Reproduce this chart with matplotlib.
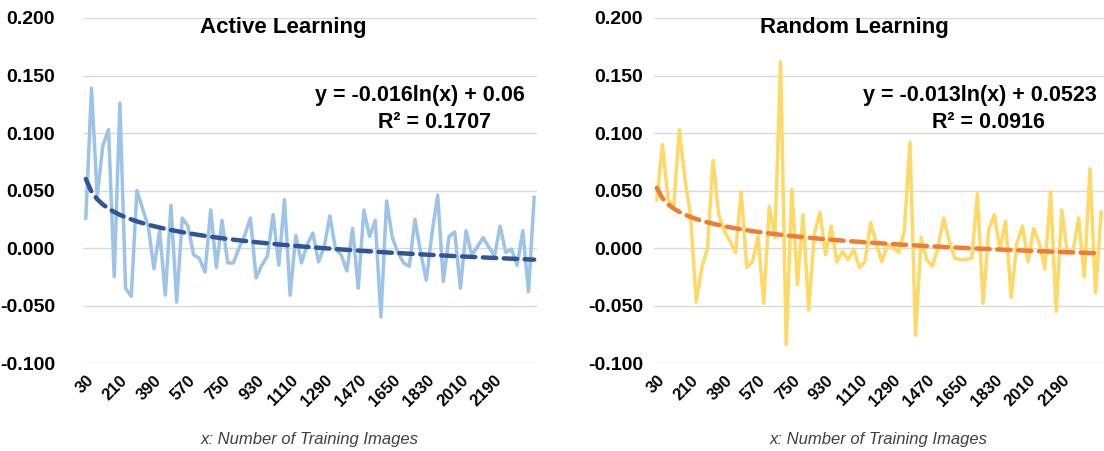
import matplotlib
matplotlib.use('Agg')
import numpy as np
import matplotlib.pyplot as plt

# number of training images (categories), 30 per step
images = list(range(30, 2401, 30))
tick_labels = [str(v) for v in range(30, 2191, 180)]

# active learning series
active = [0.026, 0.139, 0.045, 0.089, 0.103, -0.025, 0.126, -0.035, -0.042, 0.050,
          0.034, 0.019, -0.018, 0.015, -0.041, 0.037, -0.047, 0.026, 0.019, -0.006,
          -0.009, -0.021, 0.033, -0.017, 0.024, -0.013, -0.013, 0.000, 0.011, 0.026,
          -0.026, -0.015, -0.007, 0.029, -0.015, 0.042, -0.041, 0.011, -0.013, 0.003,
          0.013, -0.012, 0.001, 0.028, -0.001, -0.006, -0.020, 0.017, -0.035, 0.033,
          0.010, 0.024, -0.060, 0.041, 0.009, -0.004, -0.013, -0.016, 0.025, -0.004,
          -0.028, 0.013, 0.046, -0.029, 0.010, 0.014, -0.035, 0.015, -0.006, 0.001,
          0.009, 0.001, -0.007, 0.019, -0.004, -0.001, -0.015, 0.015, -0.038, 0.044]

# random learning series
random_l = [0.042, 0.090, 0.042, 0.036, 0.103, 0.060, 0.028, -0.047, -0.017, 0.000,
            0.076, 0.029, 0.015, 0.006, -0.004, 0.049, -0.017, -0.012, 0.010, -0.048,
            0.036, 0.009, 0.162, -0.084, 0.051, -0.032, 0.029, -0.054, 0.012, 0.031,
            -0.006, 0.019, -0.012, -0.003, -0.010, -0.001, -0.017, -0.012, 0.022, 0.004,
            -0.012, 0.003, 0.000, -0.004, 0.015, 0.092, -0.076, 0.009, -0.010, -0.016,
            0.001, 0.026, 0.006, -0.009, -0.010, -0.010, -0.009, 0.047, -0.048, 0.016,
            0.029, -0.001, 0.023, -0.043, 0.004, 0.019, -0.012, 0.017, 0.004, -0.018,
            0.049, -0.055, 0.033, -0.005, -0.003, 0.026, -0.025, 0.069, -0.039, 0.031]

# log trendline coefficients (y = a*ln(x) + b, x = point index)
active_fit = (-0.016, 0.06, '0.1707')
random_fit = (-0.013, 0.0523, '0.0916')

fig = plt.figure(figsize=(11.04, 4.51), dpi=100)
W, H = 1104.0, 451.0
FONT = 'Liberation Sans'

def make_panel(left_px, right_px, vals, fit, title, title_x, col, tcol, eqtxt, eq_x,
               r2_x, ypad):
    ax = fig.add_axes([left_px / W, 1 - 363 / H, (right_px - left_px) / W, (363 - 18) / H])
    idx = np.arange(len(vals))
    ax.plot(idx, vals, color=col, lw=2.5, solid_joinstyle='round')
    xi = idx + 1.0
    ax.plot(idx, fit[0] * np.log(xi) + fit[1], color=tcol, lw=3.2,
            dashes=(3.0, 1.7), dash_capstyle='round')
    ax.set_xlim(-0.5, len(vals) - 0.5)
    ax.set_ylim(-0.1, 0.2)
    yt = np.arange(-0.1, 0.2001, 0.05)
    ax.set_yticks(yt)
    ax.set_yticklabels(['%.3f' % v for v in yt], fontweight='bold', fontsize=14,
                       fontfamily=FONT)
    ax.set_xticks(np.arange(0, 73, 6))
    ax.set_xticklabels(tick_labels, rotation=45, ha='right', rotation_mode='anchor',
                       fontweight='bold', fontsize=12, fontfamily=FONT)
    ax.tick_params(length=0, pad=7)
    ax.tick_params(axis='y', pad=ypad)
    ax.grid(True, axis='y', color='#d9d9d9', lw=1)
    ax.set_axisbelow(True)
    for s in ax.spines.values():
        s.set_visible(False)
    fig.text(title_x / W, 1 - 27 / H, title, ha='center', va='center',
             fontsize=16, fontweight='bold', fontfamily=FONT)
    fig.text(eq_x / W, 1 - 95 / H, eqtxt, ha='right', va='center',
             fontsize=15.5, fontweight='bold', fontfamily=FONT)
    fig.text(r2_x / W, 1 - 122 / H, 'R² = ' + fit[2], ha='center', va='center',
             fontsize=15.5, fontweight='bold', fontfamily=FONT)
    ax.set_xlabel('x: Number of Training Images', fontstyle='italic', fontsize=12,
                  fontfamily=FONT, color='#404040', labelpad=16)
    return ax

ax1 = make_panel(83, 537, active, active_fit, 'Active Learning', 283, '#9dc3e6', '#2f5597',
                 'y = -0.016ln(x) + 0.06', 525, 435, 20)
ax2 = make_panel(654, 1104, random_l, random_fit, 'Random Learning', 854, '#ffd966', '#ed7d31',
                 'y = -0.013ln(x) + 0.0523', 1097, 988, 8)

plt.savefig('out.png', dpi=100)
